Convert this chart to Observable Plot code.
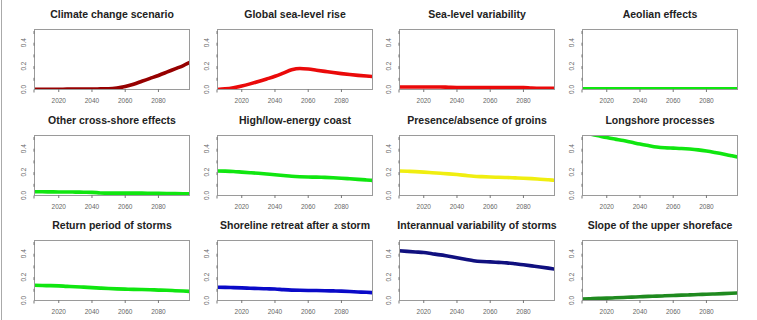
<!DOCTYPE html>
<html>
<head>
<meta charset="utf-8">
<script src="https://cdn.jsdelivr.net/npm/d3@7"></script>
<script src="https://cdn.jsdelivr.net/npm/@observablehq/plot@0.6"></script>
<style>
  html, body { margin: 0; padding: 0; background: #fff; }
  #chart { position: relative; width: 757px; height: 320px; overflow: hidden; font-family: "Liberation Sans", Arial, sans-serif; }
  #chart svg { position: absolute; background: transparent; overflow: visible; }
  #edge { position: absolute; left: 1px; top: 0; width: 1px; height: 320px; background: #aaa; }
</style>
</head>
<body>
<div id="chart"><div id="edge"></div></div>
<script>
// ---- data ----
const years = [2005, 2010, 2015, 2020, 2025, 2030, 2035, 2040, 2045, 2050, 2055, 2060, 2065, 2070, 2075, 2080, 2085, 2090, 2095, 2100];
const xTicks = [2020, 2040, 2060, 2080];
const yTicks = [0, 0.1, 0.2, 0.3, 0.4, 0.5];

const titles = [
  "Climate change scenario", "Global sea-level rise", "Sea-level variability", "Aeolian effects",
  "Other cross-shore effects", "High/low-energy coast", "Presence/absence of groins", "Longshore processes",
  "Return period of storms", "Shoreline retreat after a storm", "Interannual variability of storms", "Slope of the upper shoreface"
];
const colors = [
  "#960000", "#ea0a0a", "#ea0a0a", "#10e610",
  "#10e610", "#10e610", "#f0ee10", "#10e610",
  "#10e610", "#0a0ac8", "#10107f", "#1f8a1f"
];

const climateChange   = [0.002, 0.002, 0.002, 0.002, 0.003, 0.003, 0.004, 0.004, 0.005, 0.006, 0.012, 0.025, 0.045, 0.070, 0.095, 0.120, 0.148, 0.177, 0.205, 0.240];
const seaLevelRise    = [0.000, 0.005, 0.015, 0.030, 0.048, 0.068, 0.090, 0.113, 0.140, 0.168, 0.180, 0.175, 0.165, 0.155, 0.145, 0.136, 0.128, 0.121, 0.115, 0.110];
const seaLevelVar     = [0.022, 0.022, 0.022, 0.022, 0.022, 0.022, 0.019, 0.017, 0.017, 0.017, 0.017, 0.017, 0.017, 0.017, 0.017, 0.016, 0.012, 0.010, 0.010, 0.010];
const aeolian         = [0.006, 0.006, 0.006, 0.006, 0.006, 0.006, 0.006, 0.006, 0.006, 0.006, 0.006, 0.006, 0.006, 0.006, 0.006, 0.006, 0.006, 0.006, 0.006, 0.006];
const otherCrossShore = [0.032, 0.032, 0.031, 0.030, 0.030, 0.029, 0.028, 0.027, 0.022, 0.020, 0.020, 0.020, 0.020, 0.020, 0.019, 0.018, 0.017, 0.016, 0.015, 0.014];
const highLowEnergy   = [0.210, 0.208, 0.205, 0.200, 0.195, 0.190, 0.184, 0.178, 0.171, 0.164, 0.160, 0.158, 0.157, 0.155, 0.152, 0.148, 0.143, 0.138, 0.133, 0.128];
const groins          = [0.210, 0.207, 0.204, 0.200, 0.195, 0.190, 0.185, 0.179, 0.172, 0.165, 0.161, 0.158, 0.156, 0.154, 0.151, 0.148, 0.144, 0.139, 0.134, 0.129];
const longshore       = [0.540, 0.525, 0.510, 0.495, 0.482, 0.470, 0.455, 0.440, 0.427, 0.415, 0.408, 0.405, 0.402, 0.397, 0.390, 0.380, 0.368, 0.355, 0.340, 0.325];
const returnPeriod    = [0.130, 0.128, 0.127, 0.125, 0.121, 0.118, 0.114, 0.110, 0.106, 0.102, 0.099, 0.097, 0.095, 0.094, 0.092, 0.089, 0.087, 0.084, 0.081, 0.077];
const shorelineRetreat= [0.113, 0.112, 0.110, 0.108, 0.105, 0.102, 0.100, 0.098, 0.093, 0.089, 0.087, 0.086, 0.085, 0.084, 0.082, 0.080, 0.077, 0.073, 0.070, 0.066];
const interannual     = [0.425, 0.420, 0.415, 0.410, 0.400, 0.390, 0.378, 0.366, 0.353, 0.340, 0.333, 0.330, 0.326, 0.322, 0.314, 0.305, 0.296, 0.287, 0.277, 0.266];
const upperShoreface  = [0.012, 0.015, 0.018, 0.020, 0.023, 0.026, 0.029, 0.032, 0.035, 0.037, 0.040, 0.043, 0.046, 0.048, 0.051, 0.053, 0.056, 0.059, 0.062, 0.066];

const series = [climateChange, seaLevelRise, seaLevelVar, aeolian, otherCrossShore, highLowEnergy,
                groins, longshore, returnPeriod, shorelineRetreat, interannual, upperShoreface];

// ---- layout ----
const frameLefts = [34, 216.7, 399.3, 582];
const frameTops = [29.3, 135, 240];
const mL = 30, mT = 30, fW = 155, fH = 60;
const chart = document.getElementById("chart");

series.forEach((vals, i) => {
  const col = i % 4, row = Math.floor(i / 4);
  const data = years.map((yr, k) => ({year: yr, value: vals[k]}));
  const svg = Plot.plot({
    width: mL + fW + 5,
    height: mT + fH + 18,
    marginLeft: mL, marginRight: 5, marginTop: mT, marginBottom: 18,
    style: {background: "transparent", fontFamily: "'Liberation Sans', Arial, sans-serif", overflow: "visible"},
    x: {domain: [2005.4, 2098.7]},
    y: {domain: [0, 0.513]},
    marks: [
      Plot.line(data, {x: "year", y: "value", stroke: colors[i], strokeWidth: 3.6, curve: "monotone-x", clip: true}),
      Plot.frame({stroke: "#9a9a9a", strokeWidth: 1}),
      Plot.axisX({ticks: xTicks, tickSize: 3, tickPadding: 6, tickFormat: d => String(d), label: null,
                  stroke: "#777", fill: "#666", fontSize: 6.5}),
      Plot.axisY({ticks: yTicks, tickSize: 3, tickPadding: 8, rotate: -90, textAnchor: "middle", label: null,
                  tickFormat: d => (Math.round(d * 10) % 2 === 0 && d < 0.45) ? d.toFixed(1) : "",
                  stroke: "#777", fill: "#666", fontSize: 6.5}),
      Plot.text([titles[i]], {frameAnchor: "top", dy: -14.5, lineAnchor: "middle", fontWeight: "bold", fontSize: 10.5, fill: "#222"})
    ]
  });
  svg.style.left = (frameLefts[col] - mL) + "px";
  svg.style.top = (frameTops[row] - mT) + "px";
  chart.appendChild(svg);
});
</script>
</body>
</html>
